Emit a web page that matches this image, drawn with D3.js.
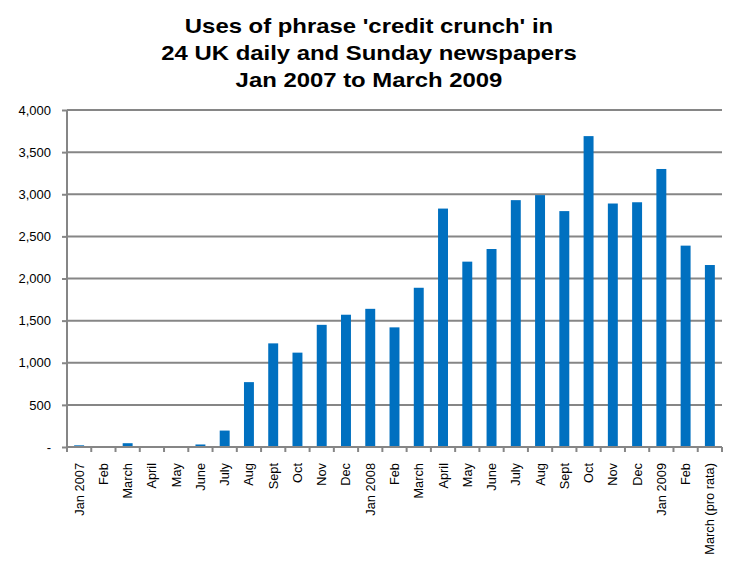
<!DOCTYPE html>
<html><head><meta charset="utf-8">
<script src="https://cdn.jsdelivr.net/npm/d3@7"></script>
<style>body{margin:0;background:#fff}svg{display:block}</style>
</head><body>
<svg id="c" width="737" height="571"></svg>
<script>
const categories = ["Jan 2007","Feb","March","April","May","June","July","Aug","Sept","Oct","Nov","Dec",
  "Jan 2008","Feb","March","April","May","June","July","Aug","Sept","Oct","Nov","Dec",
  "Jan 2009","Feb","March (pro rata)"];
const values = [20,0,45,0,0,30,195,770,1230,1120,1450,1570,1640,1420,1890,2830,2200,2350,2930,2990,2800,3690,2890,2905,3300,2390,2160];
const yTicks = [0,500,1000,1500,2000,2500,3000,3500,4000];
const titleLines = ["Uses of phrase 'credit crunch' in","24 UK daily and Sunday newspapers","Jan 2007 to March 2009"];

const svg = d3.select("#c");
const m = {left:67, right:722, top:110, bottom:447};
const x = d3.scaleBand().domain(d3.range(categories.length)).range([m.left, m.right]).paddingInner(0.59).paddingOuter(0.295);
const y = d3.scaleLinear().domain([0,4000]).range([m.bottom, m.top]);
const gray = "#868686";
const font = "Liberation Sans, Arial, sans-serif";

svg.append("g").attr("transform","translate(369,0) scale(1.195,1)")
  .selectAll("text").data(titleLines).join("text")
  .attr("x", 0).attr("y", (d,i)=>33+i*27)
  .attr("text-anchor","middle").attr("font-family",font)
  .attr("font-weight","bold").attr("font-size",20).text(d=>d);

// gridlines
svg.append("g").selectAll("line").data(yTicks.slice(1)).join("line")
  .attr("x1", m.left).attr("x2", m.right).attr("y1", d=>y(d)).attr("y2", d=>y(d))
  .attr("stroke", gray).attr("stroke-width", 2);

// y axis
const yAxis = d3.axisLeft(y).tickValues(yTicks).tickSize(5).tickPadding(11)
  .tickFormat(d => d===0 ? "-" : d3.format(",")(d));
const yg = svg.append("g").attr("transform", `translate(${m.left},0)`).call(yAxis);
yg.select(".domain").attr("stroke", gray).attr("stroke-width", 2).attr("d", `M0,${m.bottom}V${m.top}`);
yg.selectAll(".tick line").attr("stroke", gray).attr("stroke-width", 2);
yg.selectAll(".tick text").attr("font-family",font).attr("font-size",13).attr("fill","#000");

// bars
svg.append("g").selectAll("rect").data(values).join("rect")
  .attr("x", (d,i)=>x(i)).attr("width", x.bandwidth())
  .attr("y", d=>y(d)).attr("height", d=>y(0)-y(d)).attr("fill", "#0070C0");

// x axis
const step = x.step();
const xg = svg.append("g").attr("transform", `translate(0,${m.bottom})`);
xg.append("line").attr("x1", m.left).attr("x2", m.right).attr("stroke", gray).attr("stroke-width", 2);
const bounds = d3.range(categories.length+1).map(i => m.left + i*step);
xg.selectAll("line.t").data(bounds).join("line").attr("class","t")
  .attr("x1", d=>d).attr("x2", d=>d).attr("y1",0).attr("y2",5).attr("stroke", gray).attr("stroke-width", 2);
xg.selectAll("text").data(categories).join("text")
  .attr("transform", (d,i)=>`translate(${x(i)+x.bandwidth()/2+4.5},16) rotate(-90)`)
  .attr("text-anchor","end").attr("font-family",font)
  .attr("font-size",12.8).text(d=>d);
</script>
</body></html>
